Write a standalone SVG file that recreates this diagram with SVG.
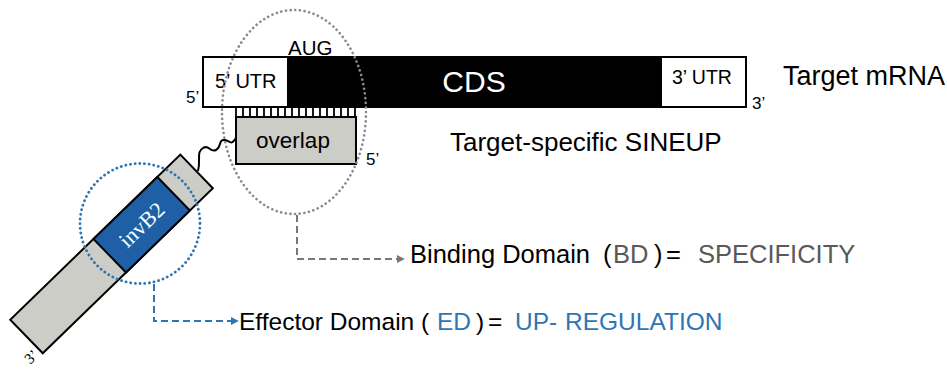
<svg xmlns="http://www.w3.org/2000/svg" width="947" height="369" viewBox="0 0 947 369">
<defs>
<style>
text{font-family:"Liberation Sans",Arial,sans-serif;fill:#000}
.serif{font-family:"Liberation Serif","Times New Roman",serif}
.box{stroke:#000;stroke-width:2}
.gray{fill:#595959}
.blue{fill:#2e75b6}
.tick{stroke:#000;stroke-width:1.8}
</style>
<marker id="ag" viewBox="0 0 10 10" refX="9" refY="5" markerWidth="4" markerHeight="4" orient="auto"><path d="M0,0L10,5L0,10z" fill="#777"/></marker>
<marker id="ab" viewBox="0 0 10 10" refX="9" refY="5" markerWidth="4" markerHeight="4" orient="auto"><path d="M0,0L10,5L0,10z" fill="#2e75b6"/></marker>
</defs>
<rect width="947" height="369" fill="#fff"/>

<g id="mrna">
<rect class="box" x="203" y="57" width="543" height="50" fill="#000"/>
<rect class="box" x="203" y="57" width="85" height="50" fill="#fff"/>
<rect class="box" x="661" y="57" width="85" height="50" fill="#fff"/>
<text x="215" y="88" font-size="20">5’ UTR</text>
<text x="672" y="84" font-size="19.5">3’ UTR</text>
<text x="474" y="92" font-size="30" text-anchor="middle" style="fill:#fff">CDS</text>
<text x="288" y="55" font-size="20.5">AUG</text>
<text x="186" y="103" font-size="17">5’</text>
<text x="752" y="109" font-size="17">3’</text>
<text x="783" y="85" font-size="27">Target mRNA</text>
</g>

<g id="sineup-bd">
<path class="tick" d="M236,107V117M243,107V117M250,107V117M257,107V117M264,107V117M271,107V117M278,107V117M285,107V117M292,107V117M299,107V117M306,107V117M313,107V117M320,107V117M327,107V117M334,107V117M341,107V117M348,107V117M355,107V117"/>
<rect class="box" x="236" y="117" width="120" height="47" fill="#cdcdc8"/>
<text x="293" y="148" font-size="22.5" text-anchor="middle">overlap</text>
<text x="366" y="165" font-size="17">5’</text>
<text x="450" y="151" font-size="26">Target-specific SINEUP</text>
</g>

<g id="sineup-ed">
<path d="M198,171 C201,160 196,152 203,148 C209,144 210,153 216,150 C222,147 218,139 225,140 C230,141 231,146 236,138" fill="none" stroke="#000" stroke-width="2"/>
<g transform="translate(26.5,336.5) rotate(-44.14)">
<rect class="box" x="0" y="-23.35" width="237" height="46.7" fill="#cdcdc8"/>
<rect class="box" x="116" y="-23.35" width="89" height="46.7" fill="#1f5fa5"/>
<text class="serif" x="160.5" y="7.5" font-size="22" text-anchor="middle" style="fill:#fff">invB2</text>
<text class="serif" x="-17" y="23" font-size="15">3’</text>
</g>
</g>

<g id="highlights" fill="none" stroke-linecap="round">
<ellipse cx="294" cy="112" rx="72" ry="102" stroke="#8a8a8a" stroke-width="2.6" stroke-dasharray="0.1 4.6"/>
<circle cx="140" cy="223.5" r="60" stroke="#2e75b6" stroke-width="2.8" stroke-dasharray="0.1 4.6"/>
</g>

<g id="connectors" fill="none" stroke-width="2">
<path d="M297,215V259H404" stroke="#777" stroke-dasharray="7 4" marker-end="url(#ag)"/>
<path d="M154,284V321H238" stroke="#2e75b6" stroke-dasharray="7 4" marker-end="url(#ab)"/>
</g>

<g id="labels">
<text y="263" font-size="25.5"><tspan x="410">Binding Domain</tspan><tspan x="603">(</tspan><tspan x="613" class="gray">BD</tspan><tspan x="654">)</tspan><tspan x="666">=</tspan><tspan x="698" class="gray">SPECIFICITY</tspan></text>
<text y="330" font-size="24.5"><tspan x="239">Effector Domain</tspan><tspan x="421">(</tspan><tspan x="437" class="blue">ED</tspan><tspan x="476">)</tspan><tspan x="488">=</tspan><tspan x="515" class="blue">UP-</tspan><tspan x="565" class="blue">REGULATION</tspan></text>
</g>
</svg>
